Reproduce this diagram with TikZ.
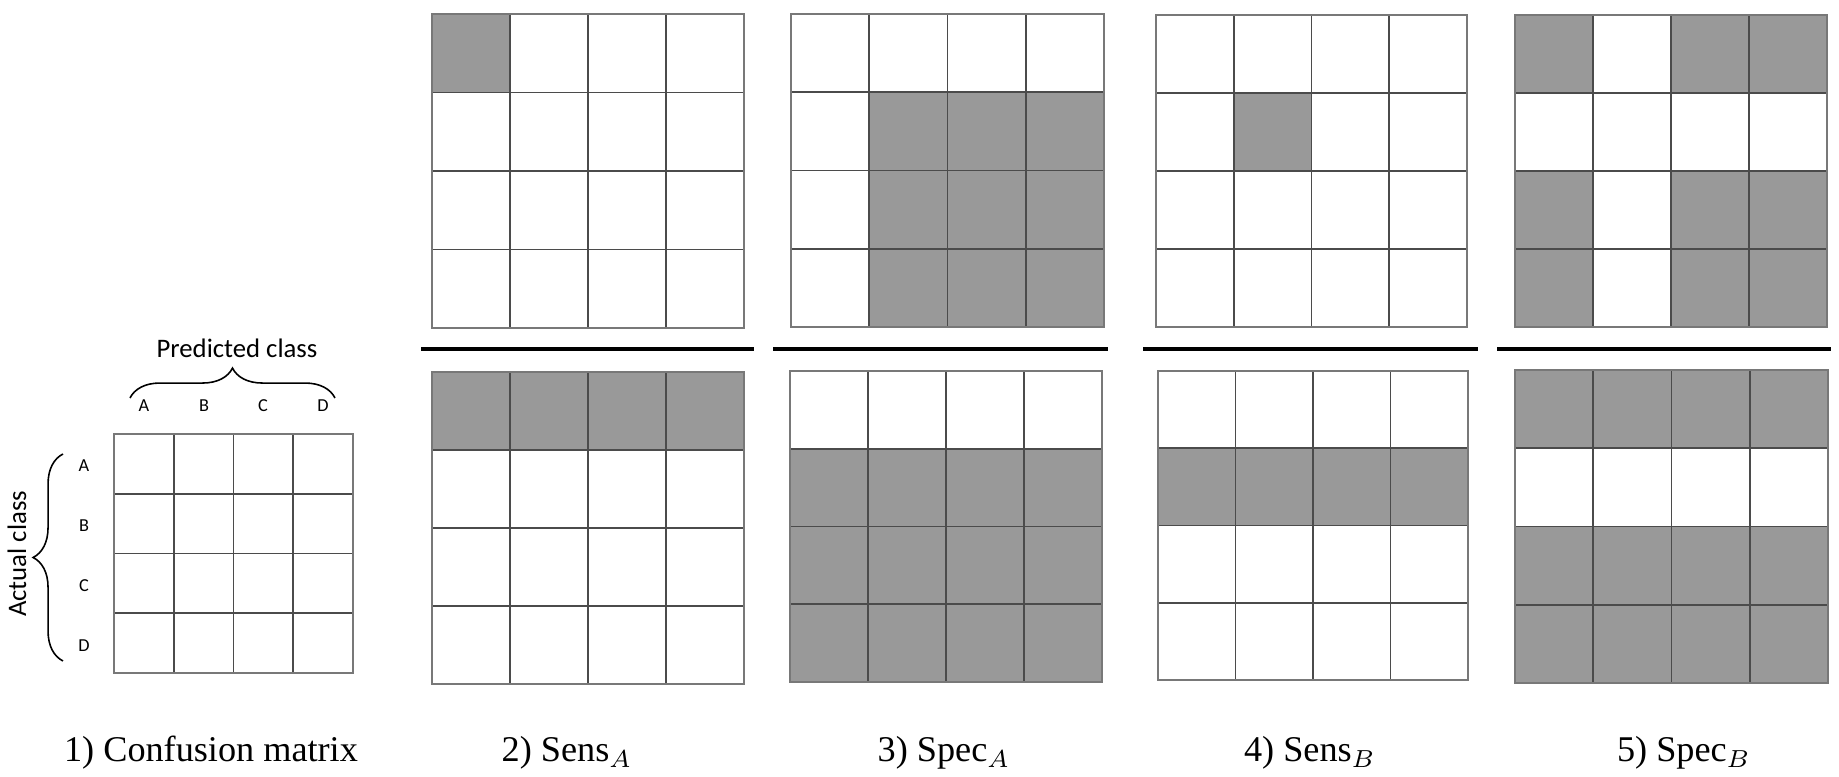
\documentclass[tikz,border=0pt]{standalone}
\usepackage{fontspec}
\setmainfont{Liberation Serif}
\newfontfamily\sansf{Carlito}
\usetikzlibrary{decorations.pathreplacing}
\definecolor{cellgray}{RGB}{153,153,153}
\definecolor{gridline}{RGB}{75,75,75}
\definecolor{borderline}{RGB}{120,120,120}
\tikzset{
  gridstyle/.style={draw=gridline, line width=0.45pt},
  borderstyle/.style={draw=borderline, line width=0.55pt},
  sepline/.style={draw=black, line width=1pt},
  bracestyle/.style={draw=black, line width=0.45pt, decorate},
  caption/.style={font=\fontsize{10.3}{11}\selectfont, inner sep=0pt, anchor=base},
  axislbl/.style={font=\sansf\fontsize{7.6}{8}\selectfont, inner sep=0pt},
  classlbl/.style={font=\sansf\fontsize{5.2}{6}\selectfont, inner sep=0pt},
}
\newcommand\shadecells[5]{%
  \pgfmathsetmacro\pcw{(#3-#1)/4}\pgfmathsetmacro\pch{(#4-#2)/4}%
  \foreach \r/\c in {#5}{\fill[cellgray] ({#1+(\c-1)*\pcw},{#2+(\r-1)*\pch}) rectangle ++(\pcw,\pch);}%
}
\newcommand\gridbox[4]{%
  \pgfmathsetmacro\pcw{(#3-#1)/4}\pgfmathsetmacro\pch{(#4-#2)/4}%
  \foreach \i in {1,2,3}{%
    \draw[gridstyle] ({#1+\i*\pcw},#2) -- ({#1+\i*\pcw},#4);
    \draw[gridstyle] (#1,{#2+\i*\pch}) -- (#3,{#2+\i*\pch});
  }%
  \draw[borderstyle] (#1,#2) rectangle (#3,#4);%
}
\begin{document}
\begin{tikzpicture}[x=0.01cm, y=-0.01cm]
\useasboundingbox (0,0) rectangle (1839,777);
\fill[white] (0,0) rectangle (1839,777);

% 1) confusion matrix
\gridbox{114}{434}{353}{673}
\draw[bracestyle, decoration={brace, amplitude=8.5pt}] (130,398) -- (335,398);
\node[axislbl] (pred) at (237,348) {Predicted class};
\node[classlbl] (pa) at (144,406) {A};
\node[classlbl] (pb) at (204,406) {B};
\node[classlbl] (pc) at (263,406) {C};
\node[classlbl] (pd) at (323,406) {D};
\draw[bracestyle, decoration={brace, amplitude=8.5pt}] (63,661) -- (63,454);
\node[axislbl, rotate=90] (act) at (17,554) {Actual class};
\node[classlbl] (aa) at (84,466) {A};
\node[classlbl] (ab) at (84,526) {B};
\node[classlbl] (ac) at (84,586) {C};
\node[classlbl] (ad) at (84,646) {D};

% 2) Sens A
\shadecells{432}{14}{744}{328}{1/1}
\gridbox{432}{14}{744}{328}
\shadecells{432}{372}{744}{684}{1/1,1/2,1/3,1/4}
\gridbox{432}{372}{744}{684}
\draw[sepline] (421,349) -- (754,349);

% 3) Spec A
\shadecells{791}{14}{1104}{327}{2/2,2/3,2/4,3/2,3/3,3/4,4/2,4/3,4/4}
\gridbox{791}{14}{1104}{327}
\shadecells{790}{371}{1102}{682}{2/1,2/2,2/3,2/4,3/1,3/2,3/3,3/4,4/1,4/2,4/3,4/4}
\gridbox{790}{371}{1102}{682}
\draw[sepline] (773,349) -- (1108,349);

% 4) Sens B
\shadecells{1156}{15}{1467}{327}{2/2}
\gridbox{1156}{15}{1467}{327}
\shadecells{1158}{371}{1468}{680}{2/1,2/2,2/3,2/4}
\gridbox{1158}{371}{1468}{680}
\draw[sepline] (1143,349) -- (1478,349);

% 5) Spec B
\shadecells{1515}{15}{1827}{327}{1/1,1/3,1/4,3/1,3/3,3/4,4/1,4/3,4/4}
\gridbox{1515}{15}{1827}{327}
\shadecells{1515}{370}{1828}{683}{1/1,1/2,1/3,1/4,3/1,3/2,3/3,3/4,4/1,4/2,4/3,4/4}
\gridbox{1515}{370}{1828}{683}
\draw[sepline] (1497,349) -- (1831,349);

% captions
\node[caption] (c1) at (211,762) {1) Confusion matrix};
\node[caption] (c2) at (567,762) {2) Sens$_{A}$};
\node[caption] (c3) at (944,762) {3) Spec$_{A}$};
\node[caption] (c4) at (1310,762) {4) Sens$_{B}$};
\node[caption] (c5) at (1684,762) {5) Spec$_{B}$};
\end{tikzpicture}
\end{document}
